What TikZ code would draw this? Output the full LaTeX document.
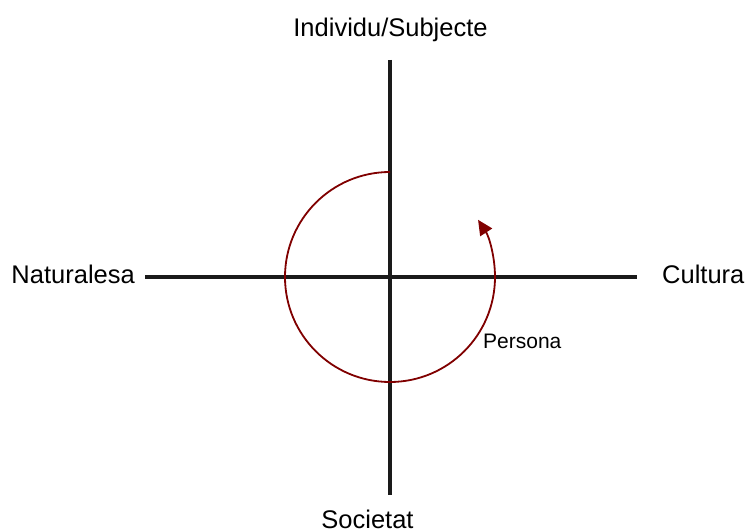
\documentclass[tikz,border=0pt]{standalone}
\usepackage{fontspec}
\setmainfont{Liberation Sans}
\usetikzlibrary{arrows.meta}
\definecolor{axisgray}{HTML}{1A1A1A}
\definecolor{darkred}{HTML}{800000}
\begin{document}
\begin{tikzpicture}[x=1pt, y=-1pt,
    axis/.style={line width=3.5pt, axisgray},
    lbl/.style={font=\fontsize{25.5}{29}\selectfont},
    small/.style={font=\fontsize{21}{24}\selectfont}]
  \useasboundingbox (0,0) rectangle (746,532);
  % 軸
  \coordinate (o) at (390,277);
  \coordinate (top) at (390,60);
  \coordinate (bot) at (390,495);
  \coordinate (left) at (145,277);
  \coordinate (right) at (637,277);
  \draw[axis] (top) -- (bot);
  \draw[axis] (left) -- (right);
  % 円弧（矢印付き）
  \coordinate (start) at (390,172);
  \draw[darkred, line width=1.8pt, -{Triangle[length=15pt, width=14pt]}]
    (start) arc[start angle=-90, end angle=-393, radius=105];
  % ラベル
  \node[lbl, anchor=base] (subj) at (390.5,36.5) {Individu/Subjecte};
  \node[lbl, anchor=base] (soc) at (367.5,528) {Societat};
  \node[lbl, anchor=base east, inner xsep=0pt] (nat) at (135,283) {Naturalesa};
  \node[lbl, anchor=base west, inner xsep=0pt] (cul) at (662,283) {Cultura};
  \node[small, anchor=base west, inner xsep=0pt] (pers) at (483,348) {Persona};
\end{tikzpicture}
\end{document}
